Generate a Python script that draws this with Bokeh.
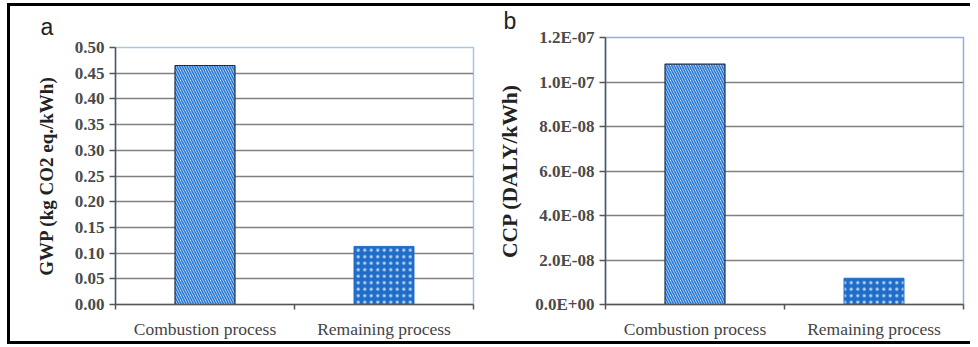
from bokeh.plotting import figure
from bokeh.models import Range1d, FixedTicker
from bokeh.layouts import row
from bokeh.embed import file_html
from bokeh.resources import INLINE

categories = ["Combustion process", "Remaining process"]
gwp_values = [0.465, 0.113]
ccp_values = [1.08e-7, 1.18e-8]
gwp_ticks = [0.0, 0.05, 0.10, 0.15, 0.20, 0.25, 0.30, 0.35, 0.40, 0.45, 0.50]
gwp_tick_labels = ["0.00", "0.05", "0.10", "0.15", "0.20", "0.25", "0.30", "0.35", "0.40", "0.45", "0.50"]
ccp_ticks = [0.0, 2e-8, 4e-8, 6e-8, 8e-8, 1.0e-7, 1.2e-7]
ccp_tick_labels = ["0.0E+00", "2.0E-08", "4.0E-08", "6.0E-08", "8.0E-08", "1.0E-07", "1.2E-07"]
panel_labels = ["a", "b"]
y_titles = ["GWP (kg CO2 eq./kWh)", "CCP (DALY/kWh)"]

SERIF = "Liberation Serif"
SANS = "Liberation Sans"
FIG_H = 335


def make_panel(letter, values, ticks, tick_labels, ytitle, width, borders, label_standoff,
               title_size, letter_offset, letter_standoff):
    left, right, top, bottom = borders
    p = figure(width=width, height=FIG_H, output_backend="svg", toolbar_location=None,
               x_range=Range1d(0, len(categories)), y_range=Range1d(ticks[0], ticks[-1]),
               min_border_left=left, min_border_right=right, min_border_top=top,
               min_border_bottom=bottom, title=letter)
    p.frame_align = False
    xs = [i + 0.5 for i in range(len(categories))]
    # striped bar
    p.vbar(x=xs[0:1], top=values[0:1], width=0.335, fill_color="white",
           hatch_pattern="\\", hatch_color="#2a7ad6", hatch_scale=5, hatch_weight=1.7,
           line_color="#1d2b48", line_width=1.2)
    # dotted bar
    p.vbar(x=xs[1:2], top=values[1:2], width=0.335, fill_color="#1f6dc8",
           hatch_pattern=".", hatch_color="#b9d4f2", hatch_scale=6.5, hatch_weight=1.2,
           line_color="#1f6dc8", line_width=1)

    p.title.text_font = SANS
    p.title.text_font_size = "23px"
    p.title.text_font_style = "normal"
    p.title.text_color = "#222222"
    p.title.align = "left"
    p.title.vertical_align = "top"
    p.title.offset = letter_offset
    p.title.standoff = letter_standoff

    p.xgrid.grid_line_color = None
    p.ygrid.grid_line_color = "#808080"
    p.ygrid.grid_line_width = 1.3
    p.outline_line_color = "#a9c5e6"
    p.outline_line_width = 1.5
    p.background_fill_color = "white"

    p.yaxis.ticker = FixedTicker(ticks=ticks)
    p.yaxis.major_label_overrides = {t: s for t, s in zip(ticks, tick_labels)}
    p.yaxis.axis_label = ytitle
    p.yaxis.axis_label_text_font = SERIF
    p.yaxis.axis_label_text_font_style = "bold"
    p.yaxis.axis_label_text_font_size = title_size
    p.yaxis.axis_label_text_color = "#222222"
    p.yaxis.axis_label_standoff = label_standoff
    p.yaxis.major_label_text_font = SERIF
    p.yaxis.major_label_text_font_style = "bold"
    p.yaxis.major_label_text_font_size = "17px"
    p.yaxis.major_label_text_color = "#4a4a4a"
    p.yaxis.major_label_standoff = 5
    p.yaxis.major_tick_in = 0
    p.yaxis.major_tick_out = 6
    p.yaxis.major_tick_line_color = "#555555"
    p.yaxis.major_tick_line_width = 1.3
    p.yaxis.minor_tick_line_color = None

    p.xaxis.ticker = FixedTicker(ticks=xs, minor_ticks=list(range(len(categories) + 1)))
    p.xaxis.major_label_overrides = {x: c for x, c in zip(xs, categories)}
    p.xaxis.major_tick_line_color = None
    p.xaxis.minor_tick_in = 0
    p.xaxis.minor_tick_out = 5
    p.xaxis.minor_tick_line_color = "#555555"
    p.xaxis.minor_tick_line_width = 1.5
    p.xaxis.major_label_text_font = SERIF
    p.xaxis.major_label_text_font_size = "17.5px"
    p.xaxis.major_label_text_color = "#444444"
    p.xaxis.major_label_standoff = 8

    for ax in (p.xaxis, p.yaxis):
        ax.axis_line_color = "#555555"
        ax.axis_line_width = 1.5
    return p


p1 = make_panel(panel_labels[0], gwp_values, gwp_ticks, gwp_tick_labels, y_titles[0],
                480, (105, 17, 41, 34), 15, "19px", -75, 12)
p2 = make_panel(panel_labels[1], ccp_values, ccp_ticks, ccp_tick_labels, y_titles[1],
                480, (115, 7, 31, 34), 10, "21.5px", -102, 3)
p2.outline_line_color = "#8fb0dc"

layout = row(p1, p2, styles={"margin-left": "7px", "margin-top": "3px",
                             "border-left": "3px solid black", "border-top": "3px solid black",
                             "border-bottom": "3px solid black"})

open("out.html", "w").write(file_html(layout, INLINE))
